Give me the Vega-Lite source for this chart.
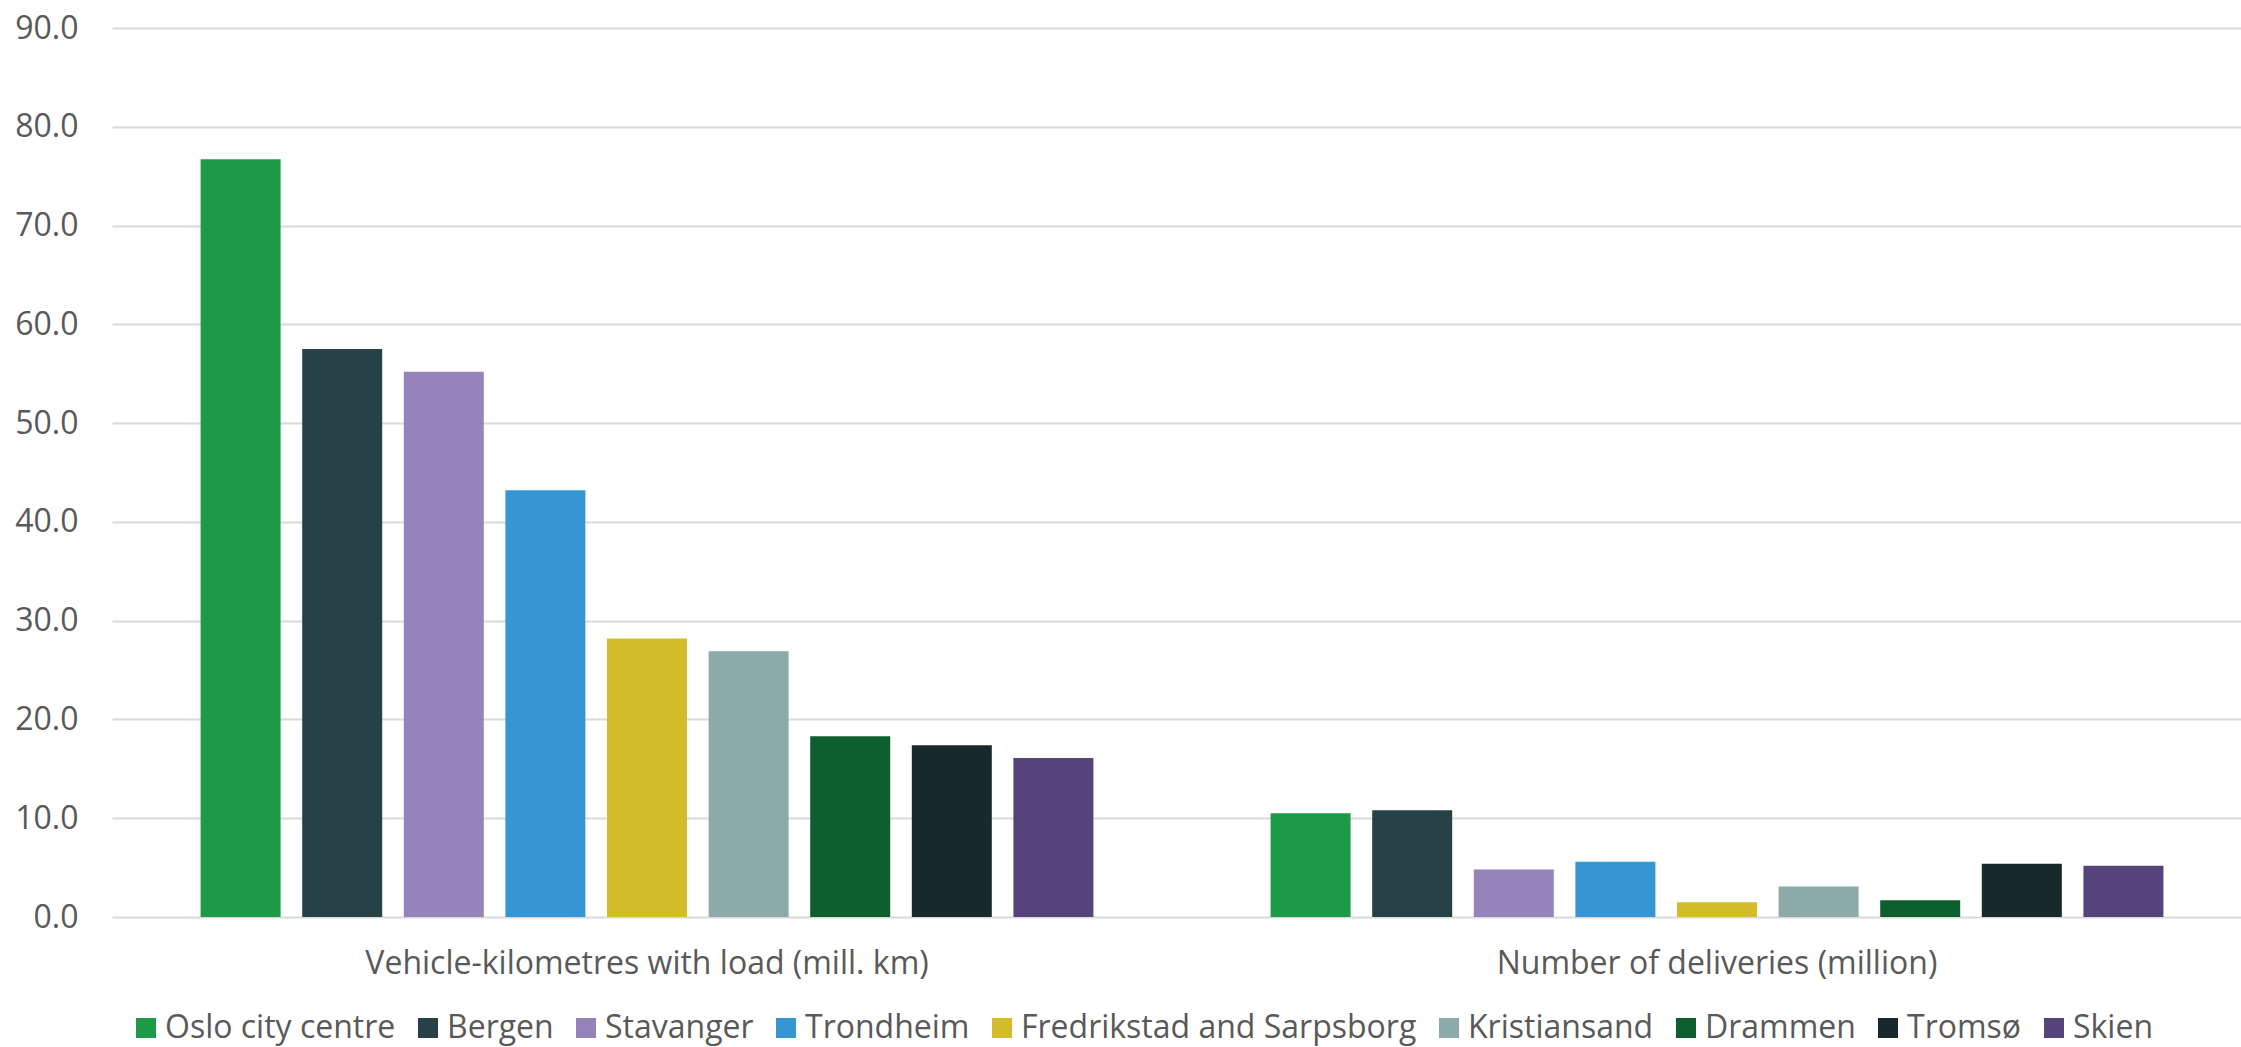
{
  "$schema": "https://vega.github.io/schema/vega-lite/v6.json",
  "width": 2129,
  "height": 889,
  "autosize": {"type": "none"},
  "padding": {"left": 112, "top": 28, "right": 0, "bottom": 130},
  "background": "white",
  "config": {
    "font": "Open Sans",
    "view": {"stroke": null},
    "axis": {"labelFont": "Open Sans", "labelColor": "#595959", "labelFontSize": 32}
  },
  "data": {
    "values": [
      {"measure": "Vehicle-kilometres with load (mill. km)", "city": "Oslo city centre", "value": 76.7},
      {"measure": "Vehicle-kilometres with load (mill. km)", "city": "Bergen", "value": 57.5},
      {"measure": "Vehicle-kilometres with load (mill. km)", "city": "Stavanger", "value": 55.2},
      {"measure": "Vehicle-kilometres with load (mill. km)", "city": "Trondheim", "value": 43.2},
      {"measure": "Vehicle-kilometres with load (mill. km)", "city": "Fredrikstad and Sarpsborg", "value": 28.2},
      {"measure": "Vehicle-kilometres with load (mill. km)", "city": "Kristiansand", "value": 26.9},
      {"measure": "Vehicle-kilometres with load (mill. km)", "city": "Drammen", "value": 18.3},
      {"measure": "Vehicle-kilometres with load (mill. km)", "city": "Tromsø", "value": 17.4},
      {"measure": "Vehicle-kilometres with load (mill. km)", "city": "Skien", "value": 16.1},
      {"measure": "Number of deliveries (million)", "city": "Oslo city centre", "value": 10.5},
      {"measure": "Number of deliveries (million)", "city": "Bergen", "value": 10.8},
      {"measure": "Number of deliveries (million)", "city": "Stavanger", "value": 4.8},
      {"measure": "Number of deliveries (million)", "city": "Trondheim", "value": 5.6},
      {"measure": "Number of deliveries (million)", "city": "Fredrikstad and Sarpsborg", "value": 1.5},
      {"measure": "Number of deliveries (million)", "city": "Kristiansand", "value": 3.1},
      {"measure": "Number of deliveries (million)", "city": "Drammen", "value": 1.7},
      {"measure": "Number of deliveries (million)", "city": "Tromsø", "value": 5.4},
      {"measure": "Number of deliveries (million)", "city": "Skien", "value": 5.2}
    ]
  },
  "mark": {"type": "bar"},
  "encoding": {
    "x": {
      "field": "measure",
      "type": "nominal",
      "sort": ["Vehicle-kilometres with load (mill. km)", "Number of deliveries (million)"],
      "scale": {"paddingInner": 0, "paddingOuter": 0, "range": [0, 2140]},
      "axis": {"title": null, "labelAngle": 0, "ticks": false, "domain": false, "labelPadding": 31, "labelLimit": 1000}
    },
    "xOffset": {
      "field": "city",
      "type": "nominal",
      "sort": ["Oslo city centre", "Bergen", "Stavanger", "Trondheim", "Fredrikstad and Sarpsborg", "Kristiansand", "Drammen", "Tromsø", "Skien"],
      "scale": {"paddingInner": 0.2126, "paddingOuter": 0.872}
    },
    "y": {
      "field": "value",
      "type": "quantitative",
      "scale": {"domain": [0, 90]},
      "axis": {
        "title": null,
        "values": [0, 10, 20, 30, 40, 50, 60, 70, 80, 90],
        "format": ".1f",
        "grid": true,
        "gridColor": "#d9d9d9",
        "gridWidth": 2,
        "domain": false,
        "ticks": false,
        "labelPadding": 34
      }
    },
    "color": {
      "field": "city",
      "type": "nominal",
      "sort": ["Oslo city centre", "Bergen", "Stavanger", "Trondheim", "Fredrikstad and Sarpsborg", "Kristiansand", "Drammen", "Tromsø", "Skien"],
      "scale": {
        "domain": ["Oslo city centre", "Bergen", "Stavanger", "Trondheim", "Fredrikstad and Sarpsborg", "Kristiansand", "Drammen", "Tromsø", "Skien"],
        "range": ["#1d9a48", "#274247", "#9683ba", "#3596d3", "#d2bc2a", "#8caaa9", "#0f5e2e", "#18282c", "#56437a"]
      },
      "legend": {
        "orient": "none",
        "legendX": 18,
        "legendY": 984,
        "padding": 0,
        "direction": "horizontal",
        "columns": 9,
        "title": null,
        "symbolType": "square",
        "symbolSize": 400,
        "symbolStrokeWidth": 0,
        "labelFont": "Open Sans",
        "labelFontSize": 32,
        "labelColor": "#595959",
        "labelOffset": 3,
        "columnPadding": 16,
        "labelLimit": 1000
      }
    }
  }
}
